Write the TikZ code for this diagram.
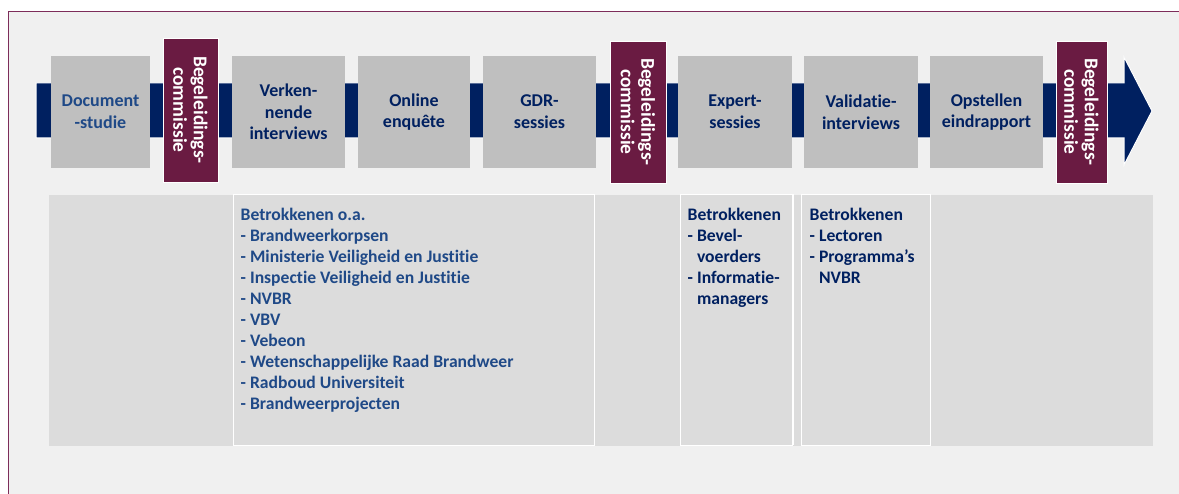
\documentclass[tikz,border=0pt]{standalone}
\usepackage{fontspec}
\setmainfont{Carlito}[Ligatures=CommonOff]
\usepackage{xcolor}
\usepackage{tikz}
\usetikzlibrary{positioning}

\definecolor{navy}{RGB}{0,32,96}
\definecolor{lightnavy}{RGB}{31,73,135}
\definecolor{wine}{RGB}{106,27,66}
\definecolor{framewine}{RGB}{125,45,90}
\definecolor{stepgray}{RGB}{191,191,191}
\definecolor{panelgray}{RGB}{220,220,220}
\definecolor{bggray}{RGB}{240,240,240}

\tikzset{
  stepbox/.style={fill=stepgray, minimum height=112pt, inner sep=0pt,
    align=center, text=navy, font=\fontsize{18}{21.7}\selectfont\bfseries},
  commbox/.style={fill=wine, draw=white, line width=0.8pt, minimum height=142pt,
    inner sep=0pt},
  commtext/.style={rotate=-90, align=center, text=white,
    font=\fontsize{19.5}{20.5}\selectfont\bfseries},
  panel/.style={fill=panelgray, minimum height=251pt, inner sep=0pt},
  framedpanel/.style={panel, draw=white, line width=1pt},
  listtext/.style={align=left, inner sep=0pt, text=navy,
    font=\fontsize{17.6}{21.1}\selectfont\bfseries}
}

\begin{document}
\begin{tikzpicture}[x=1pt, y=-1pt]
\useasboundingbox (0,0) rectangle (1179,494);
% frame and background
\fill[bggray] (8,11) rectangle (1179,494);
\draw[framewine, line width=1.6pt] (8.5,494) -- (8.5,11.5) -- (1179,11.5);

% the time line with its arrow head
\fill[navy, draw=white, line width=1pt]
  (36,83) -- (1124,83) -- (1124,57) -- (1152,111) -- (1124,165)
  -- (1124,138) -- (36,138) -- cycle;

% research steps
\node[stepbox, minimum width=99pt, text=lightnavy] (doc) at (100.5,112)
  {Document\\-studie};
\foreach \cx/\w/\nm/\txt in {288.5/113/verk/{Verken-\\nende\\interviews},
  414/112/online/{Online\\enquête},
  539.5/113/gdr/{GDR-\\sessies},
  735/114/expert/{Expert-\\sessies},
  861/114/valid/{Validatie-\\interviews},
  986.5/113/opst/{Opstellen\\eindrapport}}{
  \node[stepbox, minimum width=\w pt] (\nm) at (\cx,112) {\txt};
}

% supervisory committee moments
\foreach \cx/\cy/\w/\h/\nm in {190.5/110/55/144/bc1, 638/112/56/142/bc2,
  1081.5/112/51/142/bc3}{
  \node[commbox, minimum width=\w pt, minimum height=\h pt] (\nm) at (\cx,\cy) {};
  \node[commtext] at (\nm) {Begeleidings-\\commissie};
}

% panels with the parties involved
\node[panel, minimum width=1104pt] (row) at (601,320.5) {};
\node[framedpanel, minimum width=361pt] (p2) at (413.5,320.5) {};
\node[framedpanel, minimum width=112pt] (p4) at (736,320.5) {};
\node[framedpanel, minimum width=129pt] (p5) at (865.5,320.5) {};
\draw[white, line width=1pt] (p4.north east) ++(1,0) -- ++(0,251);

\node[listtext, text=lightnavy, below right=13pt and 8pt of p2.north west]
  (list2) {Betrokkenen o.a.\\
  - Brandweerkorpsen\\
  - Ministerie Veiligheid en Justitie\\
  - Inspectie Veiligheid en Justitie\\
  - NVBR\\
  - VBV\\
  - Vebeon\\
  - Wetenschappelijke Raad Brandweer\\
  - Radboud Universiteit\\
  - Brandweerprojecten};
\node[listtext, below right=13pt and 8pt of p4.north west]
  (list4) {Betrokkenen\\
  - Bevel-\\
  \phantom{- }voerders\\
  - Informatie-\\
  \phantom{- }managers};
\node[listtext, below right=13pt and 9pt of p5.north west]
  (list5) {Betrokkenen\\
  - Lectoren\\
  - Programma’s\\
  \phantom{- }NVBR};
\end{tikzpicture}
\end{document}
